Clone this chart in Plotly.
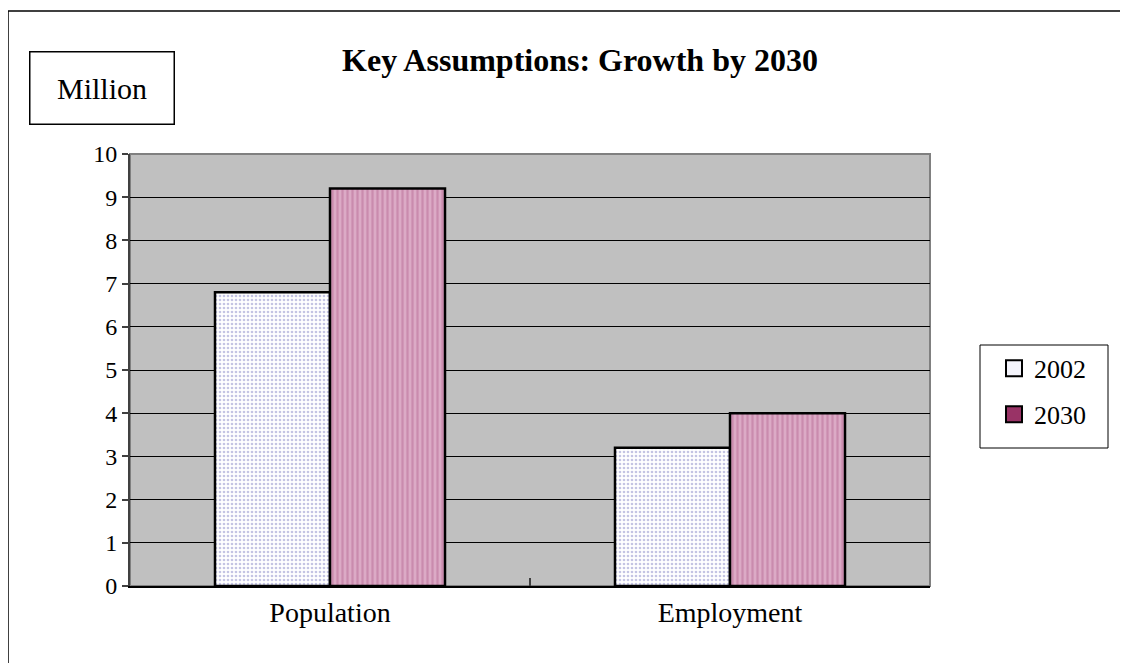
import plotly.graph_objects as go

categories = ["Population", "Employment"]
series_names = ["2002", "2030"]
values_2002 = [6.8, 3.2]
values_2030 = [9.2, 4.0]
y_ticks = list(range(0, 11))

SERIF = "Liberation Serif, Times New Roman, serif"

fig = go.Figure()
fig.add_trace(go.Bar(
    x=categories, y=values_2002, name=series_names[0], showlegend=False,
    marker=dict(color="white", line=dict(color="black", width=2.5),
                pattern=dict(shape=".", bgcolor="white", fgcolor="#8a8ac8", size=4, solidity=0.35)),
))
fig.add_trace(go.Bar(
    x=categories, y=values_2030, name=series_names[1], showlegend=False,
    marker=dict(color="#c77fa5", line=dict(color="black", width=2.5),
                pattern=dict(shape="|", bgcolor="#dcaac6", fgcolor="#b86b95", size=5, solidity=0.45)),
))
# legend entries (large square keys like the reference)
fig.add_trace(go.Scatter(
    x=[categories[0]], y=[None], mode="markers", name=series_names[0], legendgroup="a",
    marker=dict(symbol="square", size=20, color="#f4f4fb", line=dict(color="black", width=2)),
))
fig.add_trace(go.Scatter(
    x=[categories[0]], y=[None], mode="markers", name=series_names[1], legendgroup="b",
    marker=dict(symbol="square", size=20, color="#993366", line=dict(color="black", width=2)),
))

fig.update_layout(
    width=1128, height=663,
    margin=dict(l=122, r=206, t=146, b=85),
    paper_bgcolor="white", plot_bgcolor="#c0c0c0",
    barmode="group", bargap=0.425, bargroupgap=0,
    title=dict(text="<b>Key Assumptions: Growth by 2030</b>", x=(580 - 8) / 1128, xanchor="center",
               y=1 - (60 - 8) / 663, yanchor="middle", font=dict(family=SERIF, size=32, color="black")),
    showlegend=True,
    legend=dict(x=(994 - 130) / 800, y=0.558, xanchor="left", yanchor="top",
                borderwidth=0, bgcolor="rgba(0,0,0,0)",
                font=dict(family=SERIF, size=26, color="black"),
                tracegroupgap=9, traceorder="grouped", itemwidth=30),
    xaxis=dict(showline=True, linecolor="black", linewidth=2,
               ticks="inside", ticklen=8, tickcolor="#404040", tickwidth=2,
               tickson="boundaries",
               tickfont=dict(family=SERIF, size=28, color="black"),
               showgrid=False),
    yaxis=dict(range=[0, 10], tickvals=y_ticks, showline=True, linecolor="#404040", linewidth=2,
               ticks="outside", ticklen=6, tickcolor="#404040", tickwidth=1.5,
               tickfont=dict(family=SERIF, size=24, color="black"),
               showgrid=True, gridcolor="black", gridwidth=1, zeroline=False),
    shapes=[
        dict(type="rect", xref="paper", yref="paper", x0=0, x1=1, y0=0, y1=1,
             line=dict(color="#808080", width=2), layer="below"),
        dict(type="line", xref="paper", yref="paper", x0=(8 - 130) / 800, x1=1.3,
             y0=(586 - 11) / 432, y1=(586 - 11) / 432, line=dict(color="black", width=1.5)),
        dict(type="line", xref="paper", yref="paper", x0=(8 - 130) / 800, x1=(8 - 130) / 800,
             y0=(586 - 11) / 432, y1=-0.3, line=dict(color="black", width=1.5)),
        dict(type="rect", xref="paper", yref="paper",
             x0=(980 - 130) / 800, x1=(1108 - 130) / 800,
             y0=(586 - 448) / 432, y1=(586 - 345) / 432,
             line=dict(color="black", width=1), fillcolor="white", layer="below"),
    ],
    annotations=[
        dict(text="Million", xref="paper", yref="paper", x=(102 - 130) / 800, y=(586 - 88) / 432,
             xanchor="center", yanchor="middle", showarrow=False,
             font=dict(family=SERIF, size=30, color="black"),
             width=137, height=65, borderpad=3,
             bordercolor="black", borderwidth=1.5, bgcolor="white"),
    ],
)

fig.write_html("out.html")
